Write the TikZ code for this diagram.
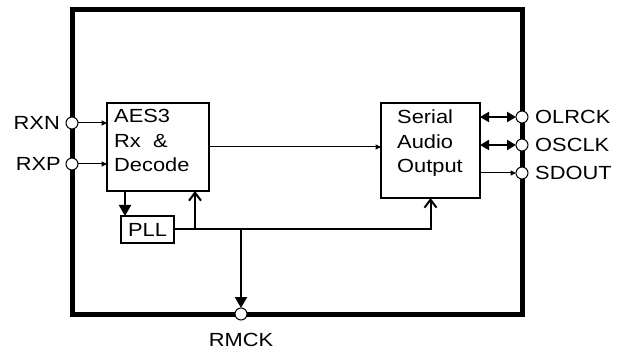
\documentclass[tikz,border=0pt]{standalone}
\usepackage{fontspec}
\setmainfont[FakeStretch=1.15]{Liberation Sans}
\usetikzlibrary{arrows.meta}
\begin{document}
\begin{tikzpicture}[x=1pt,y=-1pt,
  every node/.style={font=\fontsize{19}{24.5}\selectfont},
  chipbox/.style={draw, line width=5pt, anchor=north west, inner sep=0, outer sep=0},
  blockbox/.style={draw, line width=1.2pt, anchor=north west, inner sep=0, outer sep=0},
  pin/.style={circle, draw, fill=white, line width=1pt, minimum size=12pt, inner sep=0, outer sep=0},
  lbl/.style={inner sep=0},
  thinarrow/.style={line width=1pt, -{Triangle[length=5.5pt,width=5pt]}},
  bidir/.style={line width=2pt, {Triangle[length=9pt,width=10pt]}-{Triangle[length=9pt,width=10pt]}},
  bigarrow/.style={line width=2pt, -{Triangle[length=11pt,width=12pt]}},
  openarrow/.style={line width=2pt, -{Straight Barb[length=8pt,width=12pt,line width=2pt]}},
  busline/.style={line width=2pt}]
\useasboundingbox (0,0) rectangle (623,352);
% chip outline
\node[chipbox, minimum width=450pt, minimum height=304.5pt] (chip) at (72,9.5) {};
% blocks
\node[blockbox, minimum width=102pt, minimum height=88pt] (aes) at (107,103) {};
\node[lbl, anchor=north west, align=left] (aestxt) at (114,109.5) {AES3\\Rx~~\&\\Decode};
\node[blockbox, minimum width=99pt, minimum height=95pt] (sao) at (381,103) {};
\node[lbl, anchor=north west, align=left] (saotxt) at (397,110) {Serial\\Audio\\Output};
\node[blockbox, minimum width=53pt, minimum height=27pt] (pll) at (121,216) {};
\node[lbl] (plltxt) at (pll.center) {PLL};
% pins
\node[pin] (rxn) at (72,123) {};
\node[pin] (rxp) at (72,164) {};
\node[pin] (olrck) at (522,117) {};
\node[pin] (osclk) at (522,145) {};
\node[pin] (sdout) at (522,173) {};
\node[pin] (rmck) at (241,314) {};
% pin labels
\node[lbl, anchor=east] (lrxn) at ([xshift=-6pt]rxn.west) {RXN};
\node[lbl, anchor=east] (lrxp) at ([xshift=-5pt]rxp.west) {RXP};
\node[lbl, anchor=west] (lolrck) at ([xshift=7pt]olrck.east) {OLRCK};
\node[lbl, anchor=west] (losclk) at ([xshift=7pt]osclk.east) {OSCLK};
\node[lbl, anchor=west] (lsdout) at ([xshift=7pt]sdout.east) {SDOUT};
\node[lbl, anchor=north] (lrmck) at ([yshift=-13pt]rmck.south) {RMCK};
% connectors
\draw[thinarrow] (rxn.east) -- (aes.west |- rxn);
\draw[thinarrow] (rxp.east) -- (aes.west |- rxp);
\draw[thinarrow] (aes.east) -- (aes.east -| sao.west);
\draw[bidir] (sao.east |- olrck) -- (olrck.west);
\draw[bidir] (sao.east |- osclk) -- (osclk.west);
\draw[thinarrow] (sao.east |- sdout) -- (sdout.west);
\coordinate (aesout) at ([xshift=18pt]aes.south west);
\draw[bigarrow] (aesout) -- (aesout |- pll.north);
\draw[openarrow] (pll.east) -| (sao.south);
\coordinate (j1) at ([xshift=21pt]pll.east);
\draw[openarrow] (j1) -- (j1 |- aes.south);
\draw[bigarrow] (pll.east -| rmck) -- (rmck.north);
\end{tikzpicture}
\end{document}
